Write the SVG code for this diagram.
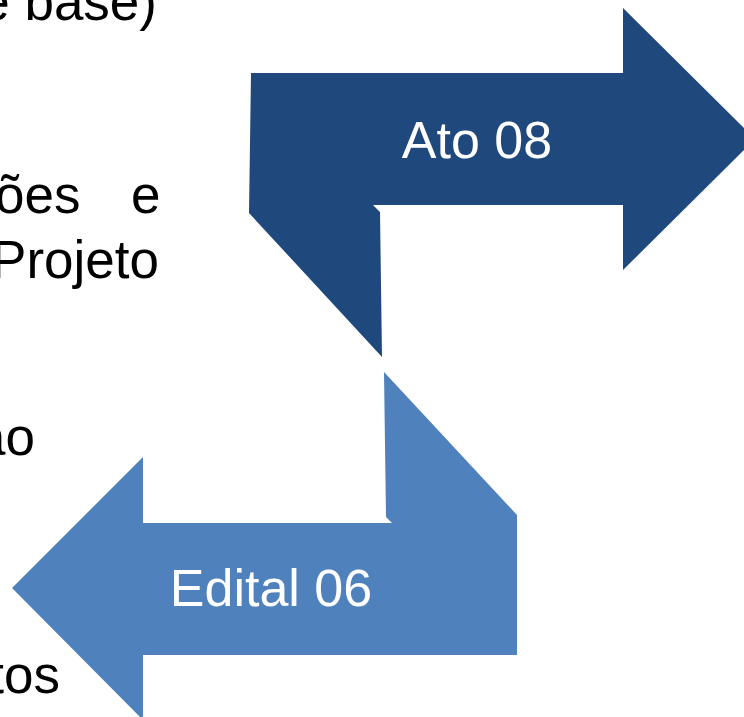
<svg xmlns="http://www.w3.org/2000/svg" width="744" height="717" viewBox="0 0 744 717">
  <style>
    .body { font-family: "Liberation Sans", Arial, sans-serif; font-size: 53px; fill: #000000; }
    .label { font-family: "Liberation Sans", Arial, sans-serif; font-size: 52px; fill: #FFFFFF; text-anchor: middle; }
    .dark { fill: #1F497D; }
    .light { fill: #4F81BD; }
  </style>
  <rect width="744" height="717" fill="#FFFFFF"/>
  <g id="background-text" class="body">
    <text x="157" y="20" text-anchor="end">e base)</text>
    <text y="213"><tspan x="-5">ões</tspan><tspan x="131">e</tspan></text>
    <text x="159" y="278" text-anchor="end">Projeto</text>
    <text x="35" y="455" text-anchor="end">ao</text>
    <text x="60" y="693" text-anchor="end">tos</text>
  </g>
  <g id="ato-08">
    <path class="dark" d="M251,73 L623,73 L623,8 L755,139 L623,270 L623,205 L373,205 L380,212 L382,357 L249,213 Z"/>
    <text class="label" x="477" y="158">Ato 08</text>
  </g>
  <g id="edital-06">
    <path class="light" d="M384,372 L517,515 L517,655 L143,655 L143,720 L12,588 L143,457 L143,523 L392,523 L386,517 Z"/>
    <text class="label" x="271" y="606">Edital 06</text>
  </g>
</svg>
